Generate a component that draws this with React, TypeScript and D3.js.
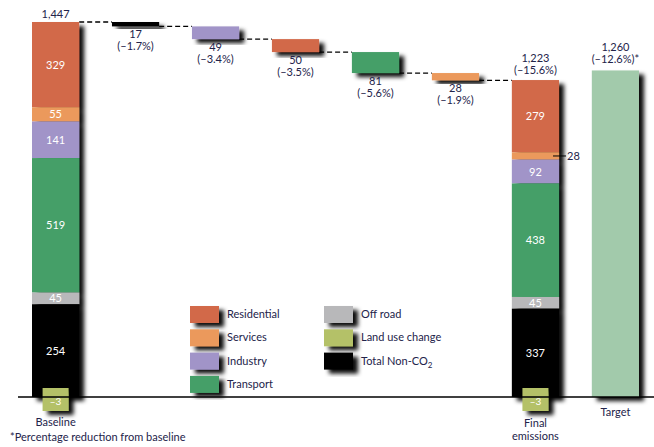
import * as d3 from 'd3';

const INK = '#23234a';
const FONT = 'Lato, "Open Sans", sans-serif';

const SECTORS = ['Residential', 'Services', 'Industry', 'Transport', 'Off road', 'Land use change', 'Total Non-CO2'];
const SECTOR_COLORS = ['#d2694a', '#eb995b', '#a194c8', '#449f68', '#b8b8ba', '#b4c167', '#000000'];

// stacked bars, top to bottom; Non-CO2 fills down to zero, land use sits on the axis
const BASELINE_TOTAL = 1447;
const BASELINE_VALUES = [329, 55, 141, 519, 45, -3, 254];
const FINAL_TOTAL = 1223;
const FINAL_LABEL = ['1,223', '(–15.6%)'];
const FINAL_VALUES = [279, 28, 92, 438, 45, -3, 337];
const TARGET_TOTAL = 1260;
const TARGET_LABEL = ['1,260', '(–12.6%)*'];

const STEP_SECTORS = ['Total Non-CO2', 'Industry', 'Residential', 'Transport', 'Services'];
const STEP_VALUES = [17, 49, 50, 81, 28];
const STEP_PCT = ['(–1.7%)', '(–3.4%)', '(–3.5%)', '(–5.6%)', '(–1.9%)'];

const COLUMNS = ['Baseline', 's1', 's2', 's3', 's4', 's5', 'Final', 'Target'];

const LEGEND_COL1 = ['Residential', 'Services', 'Industry', 'Transport'];
const LEGEND_COL2 = ['Off road', 'Land use change', 'Total Non-CO2'];

const color = d3.scaleOrdinal<string, string>().domain(SECTORS).range(SECTOR_COLORS);

const x = d3.scaleBand<string>().domain(COLUMNS).range([32, 639]).paddingInner(0.41).paddingOuter(0);
const y = d3.scaleLinear().domain([0, BASELINE_TOTAL]).range([397, 22]);
const fmt = d3.format(',');

function Stack({ col, total, values, calloutServices }: { col: string; total: number; values: number[]; calloutServices?: boolean }) {
  const x0 = x(col)!;
  const w = x.bandwidth();
  const cx = x0 + w / 2;
  let top = total;
  const segs = SECTORS.slice(0, 5).map((s, i) => {
    const seg = { s, v: values[i], t: top, b: top - values[i] };
    top -= values[i];
    return seg;
  });
  segs.push({ s: SECTORS[6], v: values[6], t: top, b: 0 });
  return (
    <g>
      <g filter="url(#shadow)">
        {segs.map((d) => (
          <rect key={d.s} x={x0} y={y(d.t)} width={w} height={y(d.b) - y(d.t)} fill={color(d.s)} />
        ))}
      </g>
      {segs.map((d) =>
        calloutServices && d.s === 'Services' ? (
          <g key={d.s}>
            <line x1={x0 + w - 6} x2={x0 + w + 7} y1={(y(d.t) + y(d.b)) / 2} y2={(y(d.t) + y(d.b)) / 2} stroke="#000" strokeWidth={1} />
            <text x={x0 + w + 8} y={(y(d.t) + y(d.b)) / 2 + 4} fill={INK} fontSize={11}>{d.v}</text>
          </g>
        ) : (
          <text key={d.s} x={cx} y={(y(d.t) + y(d.b)) / 2 + 4} textAnchor="middle" fill="#fff" fontSize={11}>
            {d.v}
          </text>
        ),
      )}
      <g filter="url(#shadow)">
        <rect x={cx - 13} y={y(0) - 9} width={26} height={23} fill={color('Land use change')} />
      </g>
      <text x={cx} y={y(0) + 8} textAnchor="middle" fill="#fff" fontSize={10}>{`–${Math.abs(values[5])}`}</text>
    </g>
  );
}

function Co2Label({ name }: { name: string }) {
  if (name !== 'Total Non-CO2') return <>{name}</>;
  return (
    <>
      Total Non-CO<tspan fontSize={8} dy={3}>2</tspan>
    </>
  );
}

export default function App() {
  const w = x.bandwidth();
  let level = BASELINE_TOTAL;
  const steps = STEP_VALUES.map((v, i) => {
    const s = { col: COLUMNS[i + 1], sector: STEP_SECTORS[i], v, pct: STEP_PCT[i], t: level, b: level - v };
    level -= v;
    return s;
  });
  const levels = [BASELINE_TOTAL, ...steps.map((s) => s.b)];
  const cFinal = x('Final')! + w / 2;
  const cTarget = x('Target')! + w / 2;
  const cBase = x('Baseline')! + w / 2;

  return (
    <svg width={654} height={447} style={{ position: 'absolute', left: 0, top: 0, background: '#fff' }} fontFamily={FONT}>
      <defs>
        <filter id="shadow" x="-20%" y="-20%" width="160%" height="160%">
          <feDropShadow dx={5} dy={4} stdDeviation={2.2} floodColor="#000" floodOpacity={0.95} />
        </filter>
      </defs>

      {/* connectors */}
      {levels.map((lv, i) => (
        <line
          key={i}
          x1={x(COLUMNS[i])! + w}
          x2={x(COLUMNS[i + 1])!}
          y1={y(lv)}
          y2={y(lv)}
          stroke="#000"
          strokeWidth={1.3}
          strokeDasharray="5 3"
        />
      ))}

      <Stack col="Baseline" total={BASELINE_TOTAL} values={BASELINE_VALUES} />
      <text x={cBase} y={y(BASELINE_TOTAL) - 4} textAnchor="middle" fill={INK} fontSize={11}>{fmt(BASELINE_TOTAL)}</text>

      {steps.map((s) => {
        const cx = x(s.col)! + w / 2;
        return (
          <g key={s.col}>
            <rect x={x(s.col)} y={y(s.t)} width={w} height={y(s.b) - y(s.t)} fill={color(s.sector)} filter="url(#shadow)" />
            <text x={cx} y={y(s.b) + 11.5} textAnchor="middle" fill={INK} fontSize={11}>{s.v}</text>
            <text x={cx} y={y(s.b) + 23.5} textAnchor="middle" fill={INK} fontSize={11}>{s.pct}</text>
          </g>
        );
      })}

      <Stack col="Final" total={FINAL_TOTAL} values={FINAL_VALUES} calloutServices />
      <text x={cFinal} y={y(FINAL_TOTAL) - 18} textAnchor="middle" fill={INK} fontSize={11}>{FINAL_LABEL[0]}</text>
      <text x={cFinal} y={y(FINAL_TOTAL) - 6} textAnchor="middle" fill={INK} fontSize={11}>{FINAL_LABEL[1]}</text>

      <rect x={x('Target')} y={y(TARGET_TOTAL)} width={w} height={y(0) - y(TARGET_TOTAL)} fill="#a2caab" filter="url(#shadow)" />
      <text x={cTarget} y={y(TARGET_TOTAL) - 19.5} textAnchor="middle" fill={INK} fontSize={11}>{TARGET_LABEL[0]}</text>
      <text x={cTarget} y={y(TARGET_TOTAL) - 7} textAnchor="middle" fill={INK} fontSize={11}>{TARGET_LABEL[1]}</text>

      {/* zero line */}
      <line x1={18} x2={654} y1={y(0)} y2={y(0)} stroke="#000" strokeWidth={1.5} />

      {/* legend */}
      {[LEGEND_COL1, LEGEND_COL2].map((col, ci) =>
        col.map((name, i) => {
          const lx = ci === 0 ? 190 : 324;
          const ly = 306 + i * 23.3;
          return (
            <g key={name}>
              <rect x={lx} y={ly} width={29} height={17} fill={color(name)} filter="url(#shadow)" />
              <text x={lx + 37} y={ly + 12} fill={INK} fontSize={11}>
                <Co2Label name={name} />
              </text>
            </g>
          );
        }),
      )}

      {/* category labels */}
      <text x={cBase} y={426} textAnchor="middle" fill={INK} fontSize={11}>Baseline</text>
      <text x={10} y={441} fill={INK} fontSize={11}>*Percentage reduction from baseline</text>
      <text x={cFinal} y={427} textAnchor="middle" fill={INK} fontSize={11}>Final</text>
      <text x={cFinal} y={440} textAnchor="middle" fill={INK} fontSize={11}>emissions</text>
      <text x={cTarget} y={416} textAnchor="middle" fill={INK} fontSize={11}>Target</text>
    </svg>
  );
}
